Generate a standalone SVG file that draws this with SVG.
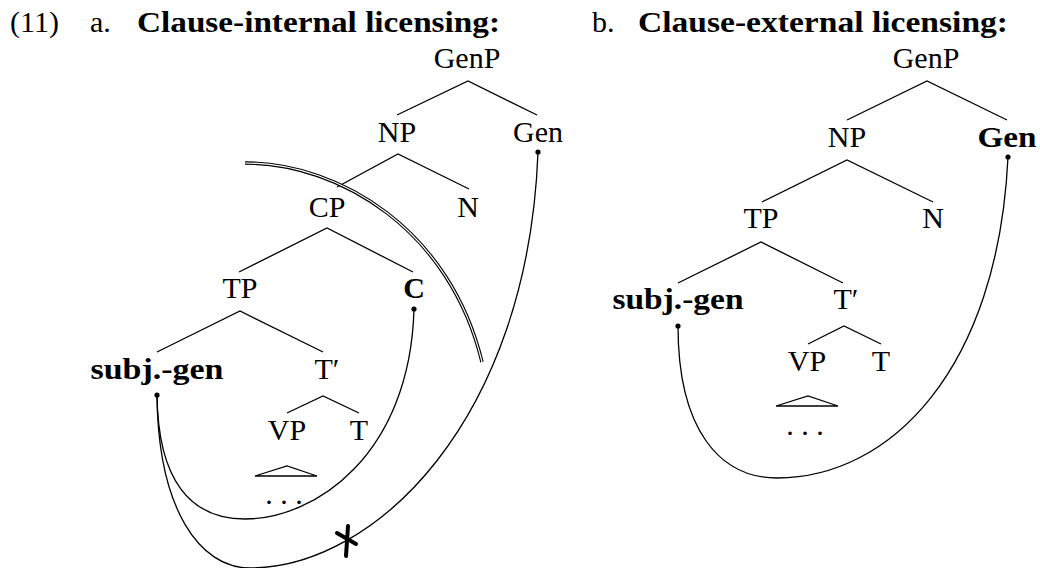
<svg xmlns="http://www.w3.org/2000/svg" width="1040" height="568" viewBox="0 0 1040 568">
<style>
text{font-family:"Liberation Serif","Times New Roman",serif;font-size:30px;fill:#000}
.b{font-weight:bold}
.m{text-anchor:middle}
.e{stroke:#000;stroke-width:1.3;fill:none}
.c{stroke:#000;stroke-width:1.3;fill:none}
.dot{fill:#000}
</style>
<rect width="1040" height="568" fill="#fff"/>
<g id="header">
<text x="10" y="32">(11)</text>
<text x="90" y="32">a.</text>
<text x="137" y="32" class="b" textLength="363" lengthAdjust="spacingAndGlyphs">Clause-internal licensing:</text>
<text x="592" y="32">b.</text>
<text x="638" y="32" class="b" textLength="370" lengthAdjust="spacingAndGlyphs">Clause-external licensing:</text>
</g>
<g id="edges">
<polyline class="e" points="397,115 468,81 537,115"/>
<polyline class="e" points="337,187 398,154 469,189"/>
<polyline class="e" points="239,272 327,228 413,272"/>
<polyline class="e" points="157,352 240,311 323,352"/>
<polyline class="e" points="287,413 323,396 359,413"/>
<polygon class="e" points="255,476 287,466 317,476"/>
<polyline class="e" points="847,120 927,81 1007,120"/>
<polyline class="e" points="762,202 847,160 933,202"/>
<polyline class="e" points="678,283 761,242 843,283"/>
<polyline class="e" points="808,344 844,326 881,344"/>
<polygon class="e" points="776,406 808,396 838,406"/>
</g>
<g id="left-tree">
<g id="a-GenP"><text x="467" y="68" class="m">GenP</text></g>
<g id="a-NP"><text x="397" y="142" class="m">NP</text></g>
<g id="a-Gen"><text x="538" y="142" class="m">Gen</text></g>
<g id="a-CP"><text x="327" y="217" class="m">CP</text></g>
<g id="a-N"><text x="468" y="217" class="m">N</text></g>
<g id="a-TP"><text x="240" y="298" class="m">TP</text></g>
<g id="a-C"><text x="414" y="298" class="m b">C</text></g>
<g id="a-subj"><text x="157" y="379" class="m b" textLength="133" lengthAdjust="spacingAndGlyphs">subj.-gen</text></g>
<g id="a-Tbar"><text x="327" y="379" class="m">T′</text></g>
<g id="a-VP"><text x="287" y="440" class="m">VP</text></g>
<g id="a-T"><text x="359" y="440" class="m">T</text></g>
<g id="a-dots"><text x="284" y="504" class="m">. . .</text></g>
</g>
<g id="right-tree">
<g id="b-GenP"><text x="926" y="68" class="m">GenP</text></g>
<g id="b-NP"><text x="847" y="147" class="m">NP</text></g>
<g id="b-Gen"><text x="1007" y="147" class="m b" textLength="59" lengthAdjust="spacingAndGlyphs">Gen</text></g>
<g id="b-TP"><text x="761" y="228" class="m">TP</text></g>
<g id="b-N"><text x="933" y="228" class="m">N</text></g>
<g id="b-subj"><text x="678" y="309" class="m b" textLength="131" lengthAdjust="spacingAndGlyphs">subj.-gen</text></g>
<g id="b-Tbar"><text x="846" y="309" class="m">T′</text></g>
<g id="b-VP"><text x="807" y="371" class="m">VP</text></g>
<g id="b-T"><text x="881" y="371" class="m">T</text></g>
<g id="b-dots"><text x="805" y="435" class="m">. . .</text></g>
</g>
<g id="connectors">
<path class="c" d="M157,395 C158,480 190,519 245,519 C315,519 410,455 414,309"/>
<path class="c" d="M157,395 C158,510 200,568 250,568 C375,568 528,420 538,152"/>
<path class="c" d="M678,326 C678,430 720,478 777,478 C890,478 998,370 1008,157"/>
<path d="M245,163 C340,163 450,230 482,362" fill="none" stroke="#000" stroke-width="3.4"/>
<path d="M245,163 C340,163 450,230 482,362" fill="none" stroke="#fff" stroke-width="1.2"/>
<circle class="dot" cx="157" cy="395" r="2.6"/>
<circle class="dot" cx="414" cy="309" r="2.6"/>
<circle class="dot" cx="538" cy="152" r="2.6"/>
<circle class="dot" cx="678" cy="326" r="2.6"/>
<circle class="dot" cx="1008" cy="157" r="2.6"/>
<g id="cross" stroke="#000" stroke-width="4" stroke-linecap="round">
<line x1="337" y1="533" x2="356" y2="544"/>
<line x1="348" y1="526" x2="346" y2="556"/>
</g>
</g>
</svg>
